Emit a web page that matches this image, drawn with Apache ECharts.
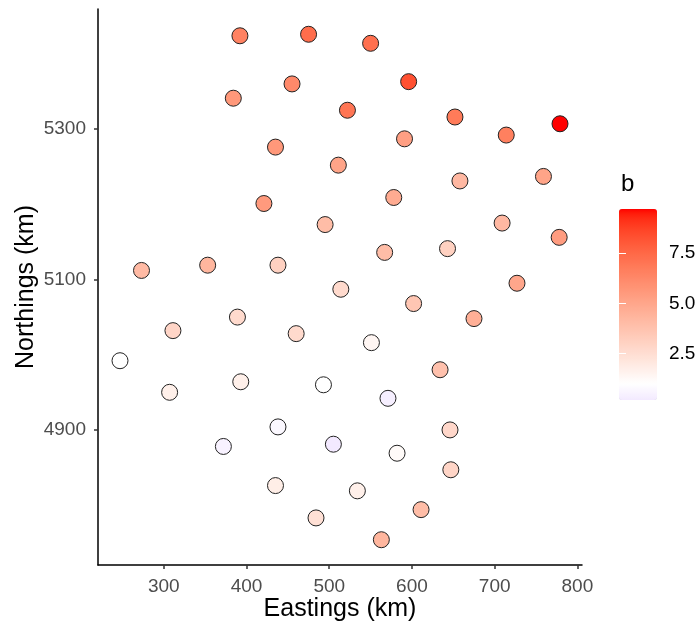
<!DOCTYPE html>
<html>
<head>
<meta charset="utf-8">
<script src="https://cdn.jsdelivr.net/npm/echarts@6/dist/echarts.min.js"></script>
<style>html,body{margin:0;padding:0;background:#fff;}#c{width:698px;height:625px;}</style>
</head>
<body>
<div id="c"></div>
<script>
const eastings  = [392,475,550,596,455,384,522,652,779,714,435,591,511,759,658,421,578,495,709,778,567,643,273,353,438,514,727,602,675,311,389,460,551,247,634,307,393,493,571,438,646,372,505,582,647,435,534,484,611,563];
const northings = [5424,5426,5414,5363,5360,5341,5325,5316,5307,5292,5276,5287,5252,5237,5231,5201,5209,5173,5175,5156,5136,5141,5112,5119,5119,5087,5095,5068,5048,5032,5050,5028,5016,4992,4980,4950,4964,4960,4942,4904,4900,4878,4881,4869,4847,4826,4819,4783,4794,4754];
const bValues   = [6.5,7.3,7.2,8.3,6.2,5.6,7.0,6.8,9.69,6.6,5.6,5.3,5.1,5.1,4.2,5.5,4.8,4.0,4.2,5.4,4.0,3.1,4.1,4.3,3.1,2.7,5.0,3.6,4.6,2.9,2.7,2.7,1.4,1.0,3.8,1.7,1.7,1.0,0.4,0.75,2.8,0.5,0.2,1.2,2.9,1.8,1.7,2.4,4.0,4.3];
const xTicks = [300,400,500,600,700,800];
const yTicks = [4900,5100,5300];
const bTicks = [2.5,5.0,7.5];
const bMid = 1;

// Lab-space diverging palette (blue - white - red)
function toLin(c){c/=255;return c<=0.04045?c/12.92:Math.pow((c+0.055)/1.055,2.4);}
function toS(c){const v=c<=0.0031308?12.92*c:1.055*Math.pow(c,1/2.4)-0.055;return Math.round(Math.max(0,Math.min(1,v))*255);}
function f(t){return t>0.008856?Math.cbrt(t):7.787*t+16/116;}
function fi(t){const t3=t*t*t;return t3>0.008856?t3:(t-16/116)/7.787;}
function rgb2lab(rgb){const r=toLin(rgb[0]),g=toLin(rgb[1]),b=toLin(rgb[2]);
  const X=(0.4124*r+0.3576*g+0.1805*b)/0.95047,Y=0.2126*r+0.7152*g+0.0722*b,Z=(0.0193*r+0.1192*g+0.9505*b)/1.08883;
  return [116*f(Y)-16,500*(f(X)-f(Y)),200*(f(Y)-f(Z))];}
function lab2rgb(l){const fy=(l[0]+16)/116,fx=fy+l[1]/500,fz=fy-l[2]/200;
  const X=fi(fx)*0.95047,Y=fi(fy),Z=fi(fz)*1.08883;
  const r=3.2406*X-1.5372*Y-0.4986*Z,g=-0.9689*X+1.8758*Y+0.0415*Z,b=0.0557*X-0.2040*Y+1.0570*Z;
  return 'rgb('+toS(r)+','+toS(g)+','+toS(b)+')';}
const LOW=rgb2lab([0,0,255]),MID=rgb2lab([255,255,255]),HIGH=rgb2lab([255,0,0]);
function mix(a,b,s){return [a[0]+(b[0]-a[0])*s,a[1]+(b[1]-a[1])*s,a[2]+(b[2]-a[2])*s];}
const bMin=Math.min(...bValues), bMax=Math.max(...bValues);
const maxAbs=Math.max(Math.abs(bMin-bMid),Math.abs(bMax-bMid));
function pal(v){const t=0.5+(v-bMid)/(2*maxAbs);
  return t<0.5?lab2rgb(mix(LOW,MID,t/0.5)):lab2rgb(mix(MID,HIGH,(t-0.5)/0.5));}
const stops=[];for(let i=0;i<=60;i++){stops.push(pal(bMin+(bMax-bMin)*i/60));}

const xr=Math.max(...eastings)-Math.min(...eastings), yr=Math.max(...northings)-Math.min(...northings);
const xMin=Math.min(...eastings)-0.05*xr, xMax=Math.max(...eastings)+0.05*xr;
const yMin=Math.min(...northings)-0.05*yr, yMax=Math.max(...northings)+0.05*yr;

const data=eastings.map((e,i)=>[e,northings[i],bValues[i]]);
const FONT='"Liberation Sans", Arial, sans-serif';

const chart=echarts.init(document.getElementById('c'),null,{renderer:'canvas'});
chart.setOption({
  backgroundColor:'#fff',
  animation:false,
  title:{text:'b',left:616,top:167,textStyle:{fontFamily:FONT,fontSize:24,fontWeight:'normal',color:'#000'}},
  grid:[
    {left:98,right:116,top:9,bottom:60,containLabel:false,outerBoundsMode:'none'},
    {left:619,top:209,width:38,height:191,containLabel:false,outerBoundsMode:'none'}
  ],
  xAxis:[
    {type:'value',gridIndex:0,min:xMin,max:xMax,
     name:'Eastings (km)',nameLocation:'middle',nameGap:32,nameMoveOverlap:false,
     nameTextStyle:{fontFamily:FONT,fontSize:25,color:'#000'},
     axisLine:{show:true,lineStyle:{color:'#000',width:1.5}},
     axisTick:{show:true,length:4,lineStyle:{color:'#333',width:1.5},customValues:xTicks},
     axisLabel:{fontFamily:FONT,fontSize:19,color:'#4d4d4d',margin:12,customValues:xTicks,formatter:v=>String(v)},
     splitLine:{show:false}},
    {type:'value',gridIndex:1,min:0,max:1,show:false}
  ],
  yAxis:[
    {type:'value',gridIndex:0,min:yMin,max:yMax,
     name:'Northings (km)',nameLocation:'middle',nameGap:59,nameMoveOverlap:false,
     nameTextStyle:{fontFamily:FONT,fontSize:25,color:'#000'},
     axisLine:{show:true,lineStyle:{color:'#000',width:1.5}},
     axisTick:{show:true,length:4,lineStyle:{color:'#333',width:1.5},customValues:yTicks},
     axisLabel:{fontFamily:FONT,fontSize:19,color:'#4d4d4d',margin:12,customValues:yTicks,formatter:v=>String(v)},
     splitLine:{show:false}},
    {type:'value',gridIndex:1,min:bMin,max:bMax,position:'right',z:10,
     axisLine:{show:false},
     axisTick:{show:true,inside:true,length:7,lineStyle:{color:'#fff',width:1},customValues:bTicks},
     axisLabel:{fontFamily:FONT,fontSize:19,color:'#000',margin:12,customValues:bTicks,formatter:v=>v.toFixed(1)},
     splitLine:{show:false}},
    {type:'value',gridIndex:1,min:bMin,max:bMax,position:'left',z:10,
     axisLine:{show:false},
     axisTick:{show:true,inside:true,length:7,lineStyle:{color:'#fff',width:1},customValues:bTicks},
     axisLabel:{show:false},
     splitLine:{show:false}}
  ],
  visualMap:{type:'continuous',seriesIndex:0,dimension:2,min:bMin,max:bMax,
    left:619,top:209,itemWidth:38,itemHeight:191,padding:0,calculable:false,
    text:null,showLabel:false,inRange:{color:stops}},
  series:[{type:'scatter',xAxisIndex:0,yAxisIndex:0,data:data,symbolSize:16,
    itemStyle:{borderColor:'#222',borderWidth:1,opacity:1}}]
});
</script>
</body>
</html>
